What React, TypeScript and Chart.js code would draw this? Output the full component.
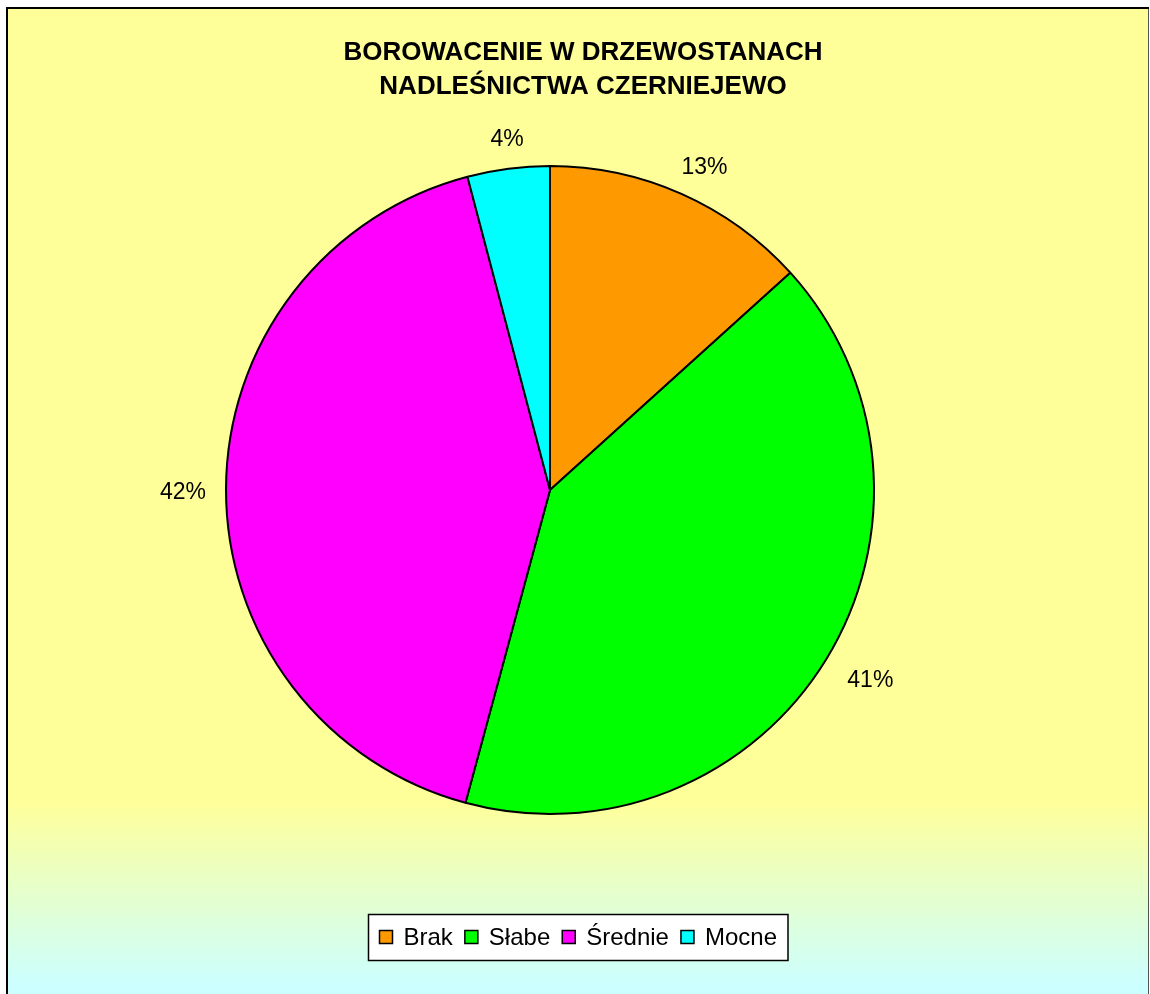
import React, { useEffect, useRef } from "react";
import { Chart, registerables } from "chart.js";

Chart.register(...registerables);

const categories = ["Brak", "Słabe", "Średnie", "Mocne"];
const shares = [13.3, 40.9, 41.7, 4.1];
const sliceColors = ["#FF9900", "#00FF00", "#FF00FF", "#00FFFF"];
const titleLines = ["BOROWACENIE W DRZEWOSTANACH", "NADLEŚNICTWA CZERNIEJEWO"];

const FONT = '"Liberation Sans", Arial, sans-serif';
const W = 1150;
const H = 994;

const framePlugin = {
  id: "frame",
  beforeDraw(chart: any) {
    const ctx = chart.ctx as CanvasRenderingContext2D;
    ctx.save();
    const g = ctx.createLinearGradient(0, 800, 0, 985);
    g.addColorStop(0, "#FFFF99");
    g.addColorStop(1, "#CCFFFF");
    ctx.fillStyle = g;
    ctx.fillRect(8, 9, 1141, H - 9);
    ctx.fillStyle = "#000";
    ctx.fillRect(6, 7, 1143, 2);
    ctx.fillRect(6, 7, 2, H);
    ctx.fillStyle = "#555";
    ctx.fillRect(1148, 9, 1, H);
    ctx.fillStyle = "#000";
    ctx.font = `bold 26px ${FONT}`;
    ctx.textAlign = "center";
    ctx.textBaseline = "middle";
    ctx.fillText(titleLines[0], 583, 53);
    ctx.fillText(titleLines[1], 583, 87);
    ctx.restore();
  },
};

const labelPlugin = {
  id: "pctLabels",
  afterDatasetsDraw(chart: any) {
    const ctx = chart.ctx as CanvasRenderingContext2D;
    const meta = chart.getDatasetMeta(0);
    const values: number[] = chart.data.datasets[0].data;
    const total = values.reduce((a, b) => a + b, 0);
    ctx.save();
    ctx.font = `23px ${FONT}`;
    ctx.fillStyle = "#000";
    ctx.textAlign = "center";
    ctx.textBaseline = "middle";
    meta.data.forEach((arc: any, i: number) => {
      const { x, y, startAngle, endAngle, outerRadius } = arc.getProps(
        ["x", "y", "startAngle", "endAngle", "outerRadius"],
        true
      );
      const mid = (startAngle + endAngle) / 2;
      const text = Math.round((values[i] / total) * 100) + "%";
      const w = ctx.measureText(text).width;
      const h = 18;
      const d = 24;
      const cx = x + Math.cos(mid) * (outerRadius + d) + (Math.cos(mid) * w) / 2;
      const cy = y + Math.sin(mid) * (outerRadius + d) + (Math.sin(mid) * h) / 2;
      ctx.fillText(text, cx + 4, cy + 4);
    });
    ctx.restore();
  },
};

const legendPlugin = {
  id: "boxLegend",
  afterDraw(chart: any) {
    const ctx = chart.ctx as CanvasRenderingContext2D;
    const labels: string[] = chart.data.labels;
    const colors: string[] = chart.data.datasets[0].backgroundColor;
    ctx.save();
    ctx.font = `24px ${FONT}`;
    const box = 13;
    const gapText = 11;
    const gapItem = 12;
    const pad = 11;
    const widths = labels.map((c) => ctx.measureText(c).width);
    const total =
      widths.reduce((a, b) => a + box + gapText + b, 0) + gapItem * (labels.length - 1);
    const boxW = total + pad * 2;
    const cx = 578;
    const cy = 937;
    const boxH = 46;
    const left = Math.round(cx - boxW / 2) + 0.5;
    const top = Math.round(cy - boxH / 2) + 0.5;
    ctx.fillStyle = "#fff";
    ctx.fillRect(left, top, boxW, boxH);
    ctx.strokeStyle = "#000";
    ctx.lineWidth = 1.5;
    ctx.strokeRect(left, top, boxW, boxH);
    let x = left + pad;
    labels.forEach((c, i) => {
      ctx.fillStyle = colors[i];
      ctx.fillRect(x, cy - box / 2, box, box);
      ctx.lineWidth = 1.5;
      ctx.strokeStyle = "#000";
      ctx.strokeRect(x, cy - box / 2, box, box);
      x += box + gapText;
      ctx.fillStyle = "#000";
      ctx.textAlign = "left";
      ctx.textBaseline = "middle";
      ctx.fillText(c, x, cy + 1);
      x += widths[i] + gapItem;
    });
    ctx.restore();
  },
};

export default function App() {
  const ref = useRef<HTMLCanvasElement>(null);
  useEffect(() => {
    if (!ref.current) return;
    const chart = new Chart(ref.current, {
      type: "pie",
      data: {
        labels: categories,
        datasets: [
          {
            data: shares,
            backgroundColor: sliceColors,
            borderColor: "#000",
            borderWidth: 2,
          },
        ],
      },
      options: {
        responsive: false,
        animation: false,
        layout: { padding: { left: 225, right: 275, top: 165, bottom: 179 } },
        plugins: {
          legend: { display: false },
          title: { display: false },
          tooltip: { enabled: false },
        },
      },
      plugins: [framePlugin, labelPlugin, legendPlugin],
    } as any);
    return () => chart.destroy();
  }, []);
  return (
    <div style={{ position: "absolute", left: 0, top: 0, width: W, height: H }}>
      <canvas ref={ref} width={W} height={H} style={{ display: "block", width: W, height: H }} />
    </div>
  );
}
